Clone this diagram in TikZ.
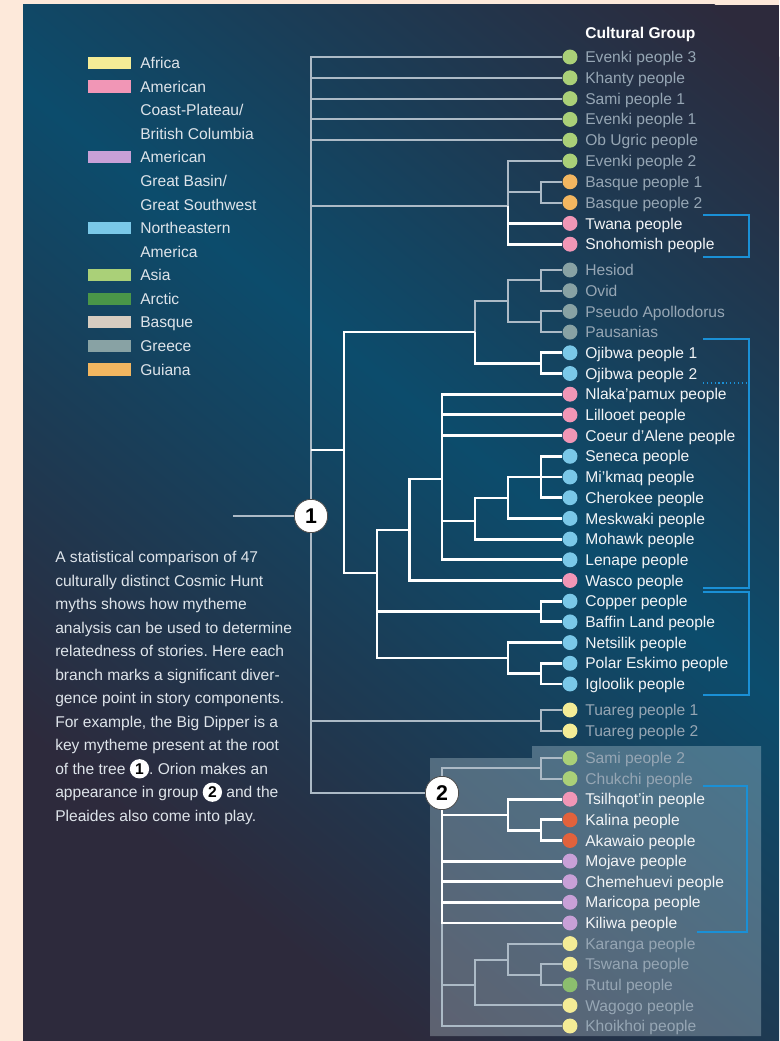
\documentclass[tikz,border=0pt]{standalone}
\usepackage{fontspec}
\setmainfont{Liberation Sans}
\usetikzlibrary{positioning}
\definecolor{peach}{RGB}{253,233,218}
\definecolor{nightbg}{RGB}{45,42,60}
\definecolor{tealbg}{RGB}{12,76,108}
\definecolor{dimline}{RGB}{172,186,198}
\definecolor{dimtext}{RGB}{150,166,180}
\definecolor{brighttext}{RGB}{242,244,246}
\definecolor{legtext}{RGB}{222,228,234}
\definecolor{hlblue}{RGB}{26,144,214}
\definecolor{cafrica}{RGB}{244,236,150}
\definecolor{ccoast}{RGB}{241,150,182}
\definecolor{cbasin}{RGB}{200,160,215}
\definecolor{cneam}{RGB}{122,200,232}
\definecolor{casia}{RGB}{170,208,120}
\definecolor{carctic}{RGB}{74,150,72}
\definecolor{cbasque}{RGB}{214,204,192}
\definecolor{cgreece}{RGB}{136,162,164}
\definecolor{cguiana}{RGB}{242,182,96}
\definecolor{ccarib}{RGB}{226,98,60}
\definecolor{crutul}{RGB}{140,190,110}
\newcommand{\lblfont}{\fontsize{11.7}{14}\selectfont}
\newcommand{\inum}[1]{\tikz[baseline=(inum.base)]\node[circle,fill=white,inner sep=0pt,minimum size=14.5pt,text=black,font=\bfseries] (inum) {#1};}
\frenchspacing

\begin{document}
\begin{tikzpicture}[x=0.75pt,y=-0.75pt,
  leaf/.style={circle,fill=#1,inner sep=0pt,minimum size=11.2pt},
  lb/.style={anchor=west,inner sep=0pt,text height=8.4pt,text depth=0pt,font=\lblfont,text=brighttext},
  ld/.style={lb,text=dimtext},
  lg/.style={lb,text=legtext},
  brtln/.style={white,line width=2.2pt},
  dimln/.style={dimline,line width=1.5pt},
  brk/.style={hlblue,line width=1.9pt},
  swatch/.style={rectangle,fill=#1,inner sep=0pt,minimum width=32.2pt,minimum height=9.2pt},
  bignum/.style={circle,fill=white,draw=black!70,line width=0.6pt,inner sep=0pt,minimum size=25pt,font=\fontsize{16}{16}\selectfont\bfseries,text=black}]
\useasboundingbox (0,0) rectangle (779,1041);
\fill[peach] (0,0) rectangle (779,1041);
\fill[nightbg] (23,5) rectangle (779,1041);
\begin{scope}
\clip (23,5) rectangle (779,1041);
\begin{scope}[transform canvas={rotate around={-39:(400,393)}}]
\shade[top color=nightbg,bottom color=nightbg,middle color=tealbg] (-800,-107) rectangle (1600,893);
\end{scope}
\end{scope}
\fill[white!80!cneam,opacity=0.27] (430,758) -- (532,758) -- (532,746) -- (761,746) -- (761,1036) -- (430,1036) -- cycle;

\node[swatch=cafrica] (swaf) at (109.5,63) {};
\node[swatch=ccoast] (swco) at (109.5,86.6) {};
\node[swatch=cbasin] (swba) at (109.5,157.3) {};
\node[swatch=cneam] (swne) at (109.5,228) {};
\node[swatch=casia] (swas) at (109.5,275.1) {};
\node[swatch=carctic] (swar) at (109.5,298.7) {};
\node[swatch=cbasque] (swbq) at (109.5,322.3) {};
\node[swatch=cgreece] (swgr) at (109.5,345.9) {};
\node[swatch=cguiana] (swgu) at (109.5,369.4) {};
\node[lg] (lgaf) at (140,63) {Africa};
\node[lg] (lgco) at (140,86.6) {American};
\node[lg] (lgco2) at (140,110.1) {Coast-Plateau/};
\node[lg] (lgco3) at (140,133.7) {British Columbia};
\node[lg] (lgba) at (140,157.3) {American};
\node[lg] (lgba2) at (140,180.9) {Great Basin/};
\node[lg] (lgba3) at (140,204.4) {Great Southwest};
\node[lg] (lgne) at (140,228) {Northeastern};
\node[lg] (lgne2) at (140,251.6) {America};
\node[lg] (lgas) at (140,275.1) {Asia};
\node[lg] (lgar) at (140,298.7) {Arctic};
\node[lg] (lgbq) at (140,322.3) {Basque};
\node[lg] (lggr) at (140,345.9) {Greece};
\node[lg] (lggu) at (140,369.4) {Guiana};

\node[anchor=north west,align=left,inner sep=0pt,text=legtext,font=\fontsize{11.7}{17.6}\selectfont] (blurb) at (55,551.4) {A statistical comparison of 47\\culturally distinct Cosmic Hunt\\myths shows how mytheme\\analysis can be used to determine\\relatedness of stories. Here each\\branch marks a significant diver-\\gence point in story components.\\For example, the Big Dipper is a\\key mytheme present at the root\\of the tree \inum{1}. Orion makes an\\appearance in group \inum{2} and the\\Pleaides also come into play.};

\node[lb,text=white,font=\lblfont\bfseries] (head) at (585,33) {Cultural Group};

\node[leaf=casia] (evkc) at (570,57) {};
\node[leaf=casia] (khan) at (570,77.8) {};
\node[leaf=casia] (samia) at (570,98.6) {};
\node[leaf=casia] (evka) at (570,119.4) {};
\node[leaf=casia] (obug) at (570,140.2) {};
\node[leaf=casia] (evkb) at (570,161) {};
\node[leaf=cguiana] (basa) at (570,181.8) {};
\node[leaf=cguiana] (basb) at (570,202.6) {};
\node[leaf=ccoast] (twan) at (570,223.4) {};
\node[leaf=ccoast] (snoh) at (570,244.2) {};
\node[leaf=cgreece] (hesi) at (570,270) {};
\node[leaf=cgreece] (ovid) at (570,290.7) {};
\node[leaf=cgreece] (pseu) at (570,311.4) {};
\node[leaf=cgreece] (paus) at (570,332.1) {};
\node[leaf=cneam] (ojia) at (570,352.8) {};
\node[leaf=cneam] (ojib) at (570,373.5) {};
\node[leaf=ccoast] (nlak) at (570,394.2) {};
\node[leaf=ccoast] (lill) at (570,414.9) {};
\node[leaf=ccoast] (coeu) at (570,435.6) {};
\node[leaf=cneam] (sene) at (570,456.3) {};
\node[leaf=cneam] (mikm) at (570,477) {};
\node[leaf=cneam] (cher) at (570,497.7) {};
\node[leaf=cneam] (mesk) at (570,518.4) {};
\node[leaf=cneam] (moha) at (570,539.1) {};
\node[leaf=cneam] (lena) at (570,559.8) {};
\node[leaf=ccoast] (wasc) at (570,580.5) {};
\node[leaf=cneam] (copp) at (570,601.2) {};
\node[leaf=cneam] (baff) at (570,621.9) {};
\node[leaf=cneam] (nets) at (570,642.6) {};
\node[leaf=cneam] (pola) at (570,663.3) {};
\node[leaf=cneam] (iglo) at (570,684) {};
\node[leaf=cafrica] (tuaa) at (570,710) {};
\node[leaf=cafrica] (tuab) at (570,731) {};
\node[leaf=casia] (samib) at (570,758) {};
\node[leaf=casia] (chuk) at (570,778.6) {};
\node[leaf=ccoast] (tsil) at (570,799.2) {};
\node[leaf=ccarib] (kali) at (570,819.9) {};
\node[leaf=ccarib] (akaw) at (570,840.5) {};
\node[leaf=cbasin] (moja) at (570,861.1) {};
\node[leaf=cbasin] (cheme) at (570,881.7) {};
\node[leaf=cbasin] (mari) at (570,902.3) {};
\node[leaf=cbasin] (kili) at (570,923) {};
\node[leaf=cafrica] (kara) at (570,943.6) {};
\node[leaf=cafrica] (tswa) at (570,964.2) {};
\node[leaf=crutul] (rutu) at (570,984.8) {};
\node[leaf=cafrica] (wago) at (570,1005.4) {};
\node[leaf=cafrica] (khoi) at (570,1026) {};

\node[ld,right=5.5pt of evkc] (evkcl) {Evenki people 3};
\node[ld,right=5.5pt of khan] (khanl) {Khanty people};
\node[ld,right=5.5pt of samia] (samial) {Sami people 1};
\node[ld,right=5.5pt of evka] (evkal) {Evenki people 1};
\node[ld,right=5.5pt of obug] (obugl) {Ob Ugric people};
\node[ld,right=5.5pt of evkb] (evkbl) {Evenki people 2};
\node[ld,right=5.5pt of basa] (basal) {Basque people 1};
\node[ld,right=5.5pt of basb] (basbl) {Basque people 2};
\node[lb,right=5.5pt of twan] (twanl) {Twana people};
\node[lb,right=5.5pt of snoh] (snohl) {Snohomish people};
\node[ld,right=5.5pt of hesi] (hesil) {Hesiod};
\node[ld,right=5.5pt of ovid] (ovidl) {Ovid};
\node[ld,right=5.5pt of pseu] (pseul) {Pseudo Apollodorus};
\node[ld,right=5.5pt of paus] (pausl) {Pausanias};
\node[lb,right=5.5pt of ojia] (ojial) {Ojibwa people 1};
\node[lb,right=5.5pt of ojib] (ojibl) {Ojibwa people 2};
\node[lb,right=5.5pt of nlak] (nlakl) {Nlaka'pamux people};
\node[lb,right=5.5pt of lill] (lilll) {Lillooet people};
\node[lb,right=5.5pt of coeu] (coeul) {Coeur d'Alene people};
\node[lb,right=5.5pt of sene] (senel) {Seneca people};
\node[lb,right=5.5pt of mikm] (mikml) {Mi'kmaq people};
\node[lb,right=5.5pt of cher] (cherl) {Cherokee people};
\node[lb,right=5.5pt of mesk] (meskl) {Meskwaki people};
\node[lb,right=5.5pt of moha] (mohal) {Mohawk people};
\node[lb,right=5.5pt of lena] (lenal) {Lenape people};
\node[lb,right=5.5pt of wasc] (wascl) {Wasco people};
\node[lb,right=5.5pt of copp] (coppl) {Copper people};
\node[lb,right=5.5pt of baff] (baffl) {Baffin Land people};
\node[lb,right=5.5pt of nets] (netsl) {Netsilik people};
\node[lb,right=5.5pt of pola] (polal) {Polar Eskimo people};
\node[lb,right=5.5pt of iglo] (iglol) {Igloolik people};
\node[ld,right=5.5pt of tuaa] (tuaal) {Tuareg people 1};
\node[ld,right=5.5pt of tuab] (tuabl) {Tuareg people 2};
\node[ld,right=5.5pt of samib] (samibl) {Sami people 2};
\node[ld,right=5.5pt of chuk] (chukl) {Chukchi people};
\node[lb,right=5.5pt of tsil] (tsill) {Tsilhqot'in people};
\node[lb,right=5.5pt of kali] (kalil) {Kalina people};
\node[lb,right=5.5pt of akaw] (akawl) {Akawaio people};
\node[lb,right=5.5pt of moja] (mojal) {Mojave people};
\node[lb,right=5.5pt of cheme] (chemel) {Chemehuevi people};
\node[lb,right=5.5pt of mari] (maril) {Maricopa people};
\node[lb,right=5.5pt of kili] (kilil) {Kiliwa people};
\node[ld,right=5.5pt of kara] (karal) {Karanga people};
\node[ld,right=5.5pt of tswa] (tswal) {Tswana people};
\node[ld,right=5.5pt of rutu] (rutul) {Rutul people};
\node[ld,right=5.5pt of wago] (wagol) {Wagogo people};
\node[ld,right=5.5pt of khoi] (khoil) {Khoikhoi people};

\coordinate (stub) at (233,516);
\coordinate (cA) at (508,206);
\coordinate (cBq) at (541,192.2);
\coordinate (cB) at (344,450);
\coordinate (cG) at (475,332);
\coordinate (cGr) at (508,301);
\coordinate (cHO) at (541,280.4);
\coordinate (cPP) at (541,321.8);
\coordinate (cOj) at (541,363.2);
\coordinate (cN) at (377,573);
\coordinate (cM) at (409.5,530);
\coordinate (cL) at (442,479);
\coordinate (cK) at (475,521);
\coordinate (cJ) at (508,498);
\coordinate (cI) at (541,477);
\coordinate (cCB) at (541,611.5);
\coordinate (cNP) at (508,658);
\coordinate (cPI) at (541,673.6);
\coordinate (cT) at (541,720.5);
\coordinate (cSC) at (541,768.3);
\coordinate (cTs) at (508,815);
\coordinate (cKA) at (541,830.2);
\coordinate (cAf) at (475,985);
\coordinate (cKT) at (508,960);
\coordinate (cTR) at (541,974.5);
\node[bignum] (c1) at (311,516) {1};
\node[bignum] (c2) at (442,793) {2};

\draw[dimln] (stub) -- (c1);
\draw[dimln] (c1) |- (evkc) (c1) |- (khan) (c1) |- (samia) (c1) |- (evka) (c1) |- (obug);
\draw[dimln] (c1) |- (cA) (c1) |- (cB) (c1) |- (cT) (c1) |- (c2);
\draw[dimln] (cA) |- (evkb) (cA) |- (cBq);
\draw[dimln] (cBq) |- (basa) (cBq) |- (basb);
\draw[dimln] (cG) |- (cGr);
\draw[dimln] (cGr) |- (cHO) (cGr) |- (cPP);
\draw[dimln] (cHO) |- (hesi) (cHO) |- (ovid);
\draw[dimln] (cPP) |- (pseu) (cPP) |- (paus);
\draw[dimln] (cT) |- (tuaa) (cT) |- (tuab);
\draw[dimln] (c2) |- (cSC) (c2) |- (cAf) (c2) |- (khoi);
\draw[dimln] (cSC) |- (samib) (cSC) |- (chuk);
\draw[dimln] (cAf) |- (cKT) (cAf) |- (wago);
\draw[dimln] (cKT) |- (kara) (cKT) |- (cTR);
\draw[dimln] (cTR) |- (tswa) (cTR) |- (rutu);

\draw[brtln] (c1 |- cB) -- (cB);
\draw[brtln] (cA) |- (twan) (cA) |- (snoh);
\draw[brtln] (cB) |- (cG) (cB) |- (cN);
\draw[brtln] (cG) |- (cOj);
\draw[brtln] (cOj) |- (ojia) (cOj) |- (ojib);
\draw[brtln] (cN) |- (cM) (cN) |- (cCB) (cN) |- (cNP);
\draw[brtln] (cM) |- (cL) (cM) |- (wasc);
\draw[brtln] (cL) |- (nlak) (cL) |- (lill) (cL) |- (coeu) (cL) |- (cK) (cL) |- (lena);
\draw[brtln] (cK) |- (cJ) (cK) |- (moha);
\draw[brtln] (cJ) |- (cI) (cJ) |- (mesk);
\draw[brtln] (cI) |- (sene) (cI) -- (mikm) (cI) |- (cher);
\draw[brtln] (cCB) |- (copp) (cCB) |- (baff);
\draw[brtln] (cNP) |- (nets) (cNP) |- (cPI);
\draw[brtln] (cPI) |- (pola) (cPI) |- (iglo);
\draw[brtln] (c2) |- (cTs) (c2) |- (moja) (c2) |- (cheme) (c2) |- (mari) (c2) |- (kili);
\draw[brtln] (cTs) |- (tsil) (cTs) |- (cKA);
\draw[brtln] (cKA) |- (kali) (cKA) |- (akaw);

\draw[brk] (703,215) -- (749,215) -- (749,257) -- (703,257);
\draw[brk] (703,339) -- (749,339) -- (749,588) -- (703,588);
\draw[brk] (703,592) -- (749,592) -- (749,695) -- (703,695);
\draw[hlblue,line width=0.9pt,dotted] (703,383) -- (749,383);
\draw[brk] (703,786) -- (747,786) -- (747,932) -- (697,932);
\end{tikzpicture}
\end{document}
